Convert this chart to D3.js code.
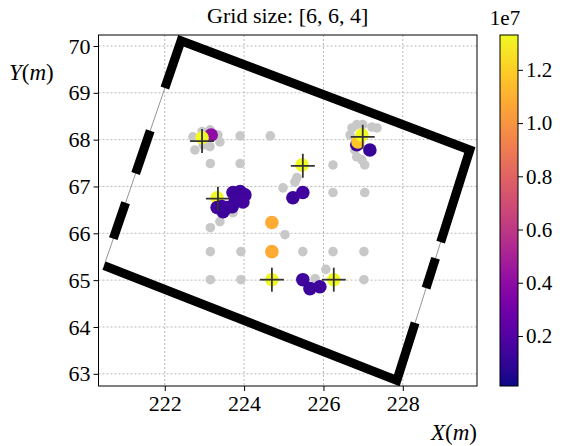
<!DOCTYPE html>
<html>
<head>
<meta charset="utf-8">
<script src="https://cdn.jsdelivr.net/npm/d3@7"></script>
<style>
  body { margin: 0; background: #fff; }
  svg { display: block; }
  text { font-family: "Liberation Serif", "DejaVu Serif", serif; fill: #000; }
</style>
</head>
<body>
<svg id="chart" width="563" height="446"></svg>
<script>
// ---- data ----
var xTicks = [222, 224, 226, 228];
var yTicks = [63, 64, 65, 66, 67, 68, 69, 70];
var cbTicks = [0.2, 0.4, 0.6, 0.8, 1.0, 1.2];   // x 1e7
var vMin = 0.012, vMax = 1.331;                 // x 1e7

// grey grid / sensor points
var grayX = [222.71, 222.76, 222.94, 223.14, 223.34, 223.39, 223.14, 222.97,
             223.90, 224.66, 223.15, 223.90, 226.24, 227.04, 226.24, 227.04,
             226.72, 226.84, 226.99, 227.22, 227.35, 226.67, 226.79, 226.84, 226.97,
             224.98, 225.28, 225.33,
             223.15, 223.39, 223.72, 225.03,
             223.15, 223.92, 225.48, 226.24, 227.02,
             223.15, 223.92, 226.06, 225.79, 227.02];
var grayY = [68.06, 67.78, 68.17, 68.21, 68.10, 67.95, 67.85, 67.89,
             68.08, 68.08, 67.49, 67.49, 67.46, 67.46, 66.87, 66.87,
             68.25, 68.32, 68.32, 68.27, 68.25, 68.10, 67.78, 67.63, 67.57,
             66.97, 67.10, 67.19,
             66.12, 66.25, 66.44, 65.97,
             65.61, 65.61, 65.61, 65.61, 65.61,
             65.01, 65.01, 65.23, 65.03, 65.01];

// coloured estimates, drawn in this order
var colX = [223.17, 222.94,
            223.32, 223.72, 223.90, 224.02, 223.97, 223.77, 223.70, 223.57, 223.44, 223.32, 223.47,
            226.84, 227.17, 226.87, 226.97,
            225.46, 225.23, 225.48,
            224.70, 224.70,
            224.70, 226.26,
            225.48, 225.66, 225.91];
var colY = [68.10, 68.04,
            66.76, 66.87, 66.89, 66.82, 66.67, 66.67, 66.57, 66.55, 66.57, 66.55, 66.46,
            67.89, 67.78, 67.95, 68.10,
            67.46, 66.76, 66.87,
            66.23, 65.61,
            65.01, 65.01,
            65.01, 64.82, 64.86];
var colV = [0.40, 1.33,
            1.33, 0.14, 0.13, 0.14, 0.15, 0.14, 0.13, 0.14, 0.15, 0.14, 0.13,
            0.13, 0.11, 1.18, 1.33,
            1.33, 0.13, 0.15,
            1.08, 1.08,
            1.33, 1.33,
            0.14, 0.13, 0.14];

// sources (+ markers)
var srcX = [222.94, 223.34, 226.99, 225.48, 224.70, 226.26];
var srcY = [67.97, 66.74, 68.06, 67.44, 65.01, 65.01];

// room outline corners D (left), A (top), B (right), C (bottom)
var roomX = [220.47, 222.41, 229.69, 227.85];
var roomY = [65.31, 70.11, 67.78, 62.86];
// thick wall pieces: [edge, t0, t1], edge 0 = D->A, 1 = A->B, 2 = B->C, 3 = C->D
var walls = [[0, 0.12, 0.28], [0, 0.41, 0.60], [0, 0.79, 1], [1, 0, 1],
             [2, 0, 0.40], [2, 0.47, 0.60], [2, 0.75, 1], [3, 0, 1]];

// ---- layout ----
var svg = d3.select("#chart");
var L = 98.5, R = 477, T = 35, B = 386;
var x = d3.scaleLinear().domain([220.33, 229.87]).range([L, R]);
var y = d3.scaleLinear().domain([62.74, 70.234]).range([B, T]);
var color = function (v) { return d3.interpolatePlasma((v - vMin) / (vMax - vMin)); };

svg.append("defs").append("clipPath").attr("id", "clip")
    .append("rect").attr("x", L).attr("y", T).attr("width", R - L).attr("height", B - T);

// grid lines
var grid = svg.append("g");
xTicks.forEach(function (t) {
    grid.append("line").attr("x1", x(t)).attr("x2", x(t)).attr("y1", T).attr("y2", B)
        .attr("stroke", "#a8a8a8").attr("stroke-width", 0.8).attr("stroke-dasharray", "2,2");
});
yTicks.forEach(function (t) {
    grid.append("line").attr("x1", L).attr("x2", R).attr("y1", y(t)).attr("y2", y(t))
        .attr("stroke", "#a8a8a8").attr("stroke-width", 0.8).attr("stroke-dasharray", "2,2");
});

var plot = svg.append("g").attr("clip-path", "url(#clip)");

// room: thin outline then thick walls
var corners = roomX.map(function (d, i) { return [x(d), y(roomY[i])]; });
plot.append("path")
    .attr("d", d3.line()(corners) + "Z")
    .attr("fill", "none").attr("stroke", "#8a8a8a").attr("stroke-width", 0.9);

function edgePt(e, t) {
    var p = corners[e], q = corners[(e + 1) % 4];
    return [p[0] + (q[0] - p[0]) * t, p[1] + (q[1] - p[1]) * t];
}
// join consecutive pieces that meet at a corner into one polyline
var polys = [], cur = null;
walls.forEach(function (w) {
    var a = edgePt(w[0], w[1]), b = edgePt(w[0], w[2]);
    if (cur && w[1] === 0 && cur.end === 1 && cur.edge === (w[0] + 3) % 4) {
        cur.pts.push(b);
    } else {
        cur = { pts: [a, b] };
        polys.push(cur);
    }
    cur.edge = w[0]; cur.end = w[2];
});
plot.selectAll(".wall").data(polys).enter().append("path")
    .attr("class", "wall")
    .attr("d", function (d) { return d3.line()(d.pts); })
    .attr("fill", "none").attr("stroke", "#000").attr("stroke-width", 9)
    .attr("stroke-linejoin", "miter").attr("stroke-linecap", "butt");

// grey points
plot.selectAll(".gray").data(grayX).enter().append("circle")
    .attr("class", "gray")
    .attr("cx", function (d) { return x(d); })
    .attr("cy", function (d, i) { return y(grayY[i]); })
    .attr("r", 4.8).attr("fill", "#c8c8c8");

// coloured points
plot.selectAll(".est").data(colX).enter().append("circle")
    .attr("class", "est")
    .attr("cx", function (d) { return x(d); })
    .attr("cy", function (d, i) { return y(colY[i]); })
    .attr("r", 6.8)
    .attr("fill", function (d, i) { return color(colV[i]); });

// + markers
var arm = 12;
var plus = plot.selectAll(".src").data(srcX).enter().append("g")
    .attr("class", "src")
    .attr("transform", function (d, i) { return "translate(" + x(d) + "," + y(srcY[i]) + ")"; });
plus.append("line").attr("x1", -arm).attr("x2", arm).attr("y1", 0).attr("y2", 0);
plus.append("line").attr("x1", 0).attr("x2", 0).attr("y1", -arm).attr("y2", arm);
plus.selectAll("line").attr("stroke", "#333").attr("stroke-width", 1.8);

// frame
svg.append("rect").attr("x", L).attr("y", T).attr("width", R - L).attr("height", B - T)
    .attr("fill", "none").attr("stroke", "#000").attr("stroke-width", 1);

// axes
var xAxis = svg.append("g").attr("transform", "translate(0," + B + ")")
    .call(d3.axisBottom(x).tickValues(xTicks).tickSize(5).tickPadding(4).tickFormat(d3.format("d")));
var yAxis = svg.append("g").attr("transform", "translate(" + L + ",0)")
    .call(d3.axisLeft(y).tickValues(yTicks).tickSize(5).tickPadding(3).tickFormat(d3.format("d")));
[xAxis, yAxis].forEach(function (a) {
    a.select(".domain").remove();
    a.selectAll(".tick line").attr("stroke", "#000");
    a.selectAll(".tick text").style("font-family", "Liberation Serif, serif").style("font-size", "22px");
});

// title and axis labels
svg.append("text").attr("x", (L + R) / 2).attr("y", 23).attr("text-anchor", "middle")
    .style("font-size", "22px").text("Grid size: [6, 6, 4]");

function mathLabel(px, py, letter) {
    var t = svg.append("text").attr("x", px).attr("y", py).style("font-size", "23px");
    t.append("tspan").style("font-style", "italic").text(letter);
    t.append("tspan").text("(");
    t.append("tspan").style("font-style", "italic").text("m");
    t.append("tspan").text(")");
    return t;
}
mathLabel(9, 80, "Y");
mathLabel(477, 440, "X").attr("text-anchor", "end");

// colorbar
var cbL = 500, cbW = 18;
var cb = d3.scaleLinear().domain([vMin, vMax]).range([B, T]);
var grad = svg.select("defs").append("linearGradient").attr("id", "plasma")
    .attr("x1", 0).attr("y1", 1).attr("x2", 0).attr("y2", 0);
d3.range(0, 1.0001, 0.05).forEach(function (s) {
    grad.append("stop").attr("offset", s).attr("stop-color", d3.interpolatePlasma(s));
});
svg.append("rect").attr("x", cbL).attr("y", T).attr("width", cbW).attr("height", B - T)
    .attr("fill", "url(#plasma)").attr("stroke", "#000").attr("stroke-width", 1);
var cbAxis = svg.append("g").attr("transform", "translate(" + (cbL + cbW) + ",0)")
    .call(d3.axisRight(cb).tickValues(cbTicks).tickSize(5).tickPadding(3).tickFormat(d3.format(".1f")));
cbAxis.select(".domain").remove();
cbAxis.selectAll(".tick line").attr("stroke", "#000");
cbAxis.selectAll(".tick text").style("font-family", "Liberation Serif, serif").style("font-size", "21px");
svg.append("text").attr("x", 505).attr("y", 25).attr("text-anchor", "middle")
    .style("font-size", "21px").text("1e7");
</script>
</body>
</html>
